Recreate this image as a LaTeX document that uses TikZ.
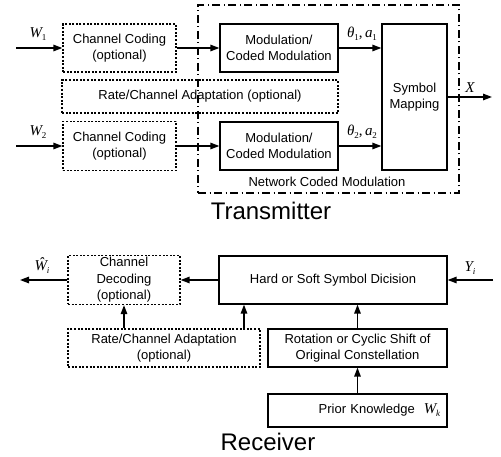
\documentclass[tikz,border=0pt]{standalone}
\usepackage{fontspec}
\setmainfont{Liberation Sans}
\newfontfamily\tnr{Liberation Serif}
\usetikzlibrary{arrows.meta}
\newcommand\mvar[2]{{\tnr\fontsize{15}{15}\selectfont\itshape #1\kern-0.3pt\raisebox{-3pt}{\fontsize{9}{9}\selectfont #2}}}
\newcommand\upsub[1]{\upshape #1}
\begin{document}
\begin{tikzpicture}[x=1pt,y=-1pt,
  base/.style={font=\fontsize{13}{16.5}\selectfont, align=center, inner sep=0pt},
  solidbox/.style={base, draw, line width=1.3pt},
  dotbox/.style={base, draw, line width=1.3pt, dash pattern=on 2pt off 1.6pt},
  dashdot/.style={draw, line width=1.2pt, dash pattern=on 8pt off 3.5pt on 1pt off 3.5pt},
  conn/.style={line width=1.4pt, -{Triangle[length=9pt,width=6.5pt]}},
  heading/.style={font=\fontsize{24}{24}\selectfont, inner sep=0pt},
  lab/.style={inner sep=0pt},
  small/.style={font=\fontsize{13}{14}\selectfont, inner sep=0pt}]
\path[use as bounding box] (0,0) rectangle (501,457);

% ---------------- Transmitter ----------------
\node[dashdot, minimum width=261pt, minimum height=188pt] (ncm) at (328.5,99) {};
\node[dotbox, minimum width=113pt, minimum height=48pt] (cc1) at (119.5,48) {Channel Coding\\(optional)};
\node[solidbox, minimum width=118pt, minimum height=48pt] (mod1) at (279,48) {Modulation/\\Coded Modulation};
\node[dotbox, minimum width=276pt, minimum height=33pt] (rca1) at (200,96.5) {Rate/Channel Adaptation (optional)};
\node[dotbox, minimum width=113pt, minimum height=49pt] (cc2) at (119.5,146) {Channel Coding\\(optional)};
\node[solidbox, minimum width=118pt, minimum height=48pt] (mod2) at (279,146) {Modulation/\\Coded Modulation};
\node[solidbox, minimum width=65pt, minimum height=146pt] (sm) at (414.5,97) {Symbol\\Mapping};
\node[small] (ncmlab) at (327,182) {Network Coded Modulation};
\node[heading] (tx) at (271,211) {Transmitter};

\coordinate (w1in) at (16,48);
\coordinate (w2in) at (16,146);
\coordinate (xout) at (492,97);
\draw[conn] (w1in) -- (cc1.west);
\draw[conn] (w2in) -- (cc2.west);
\draw[conn] (cc1.east) -- (mod1.west);
\draw[conn] (cc2.east) -- (mod2.west);
\draw[conn] (mod1.east) -- (mod1.east -| sm.west);
\draw[conn] (mod2.east) -- (mod2.east -| sm.west);
\draw[conn] (sm.east) -- (xout);

\node[lab] (lw1) at (38,34) {\mvar{W}{\upsub{1}}};
\node[lab] (lw2) at (38,132) {\mvar{W}{\upsub{2}}};
\node[lab] (lt1) at (362,34) {\mvar{θ}{\upsub{1}}{\tnr\fontsize{15}{15}\selectfont,\,}\mvar{a}{\upsub{1}}};
\node[lab] (lt2) at (362,132) {\mvar{θ}{\upsub{2}}{\tnr\fontsize{15}{15}\selectfont,\,}\mvar{a}{\upsub{2}}};
\node[lab] (lx) at (470,88) {{\tnr\fontsize{15}{15}\selectfont\itshape X}};

% ---------------- Receiver ----------------
\node[dotbox, minimum width=112pt, minimum height=49pt] (cd) at (124,280) {Channel\\Decoding\\(optional)};
\node[solidbox, minimum width=228pt, minimum height=48pt] (hs) at (333,280) {Hard or Soft Symbol Dicision};
\node[dotbox, minimum width=192pt, minimum height=38pt] (rca2) at (164,348) {Rate/Channel Adaptation\\(optional)};
\node[solidbox, minimum width=179pt, minimum height=38pt] (rot) at (357.5,348) {Rotation or Cyclic Shift of\\Original Constellation};
\node[solidbox, minimum width=179pt, minimum height=33pt, text width=165pt, align=right] (pk) at (357.5,410.5) {Prior Knowledge\hspace{9pt}\mvar{W}{k}};
\node[heading] (rx) at (268,442) {Receiver};

\coordinate (yin) at (493,280);
\coordinate (wout) at (20,280);
\coordinate (rhx) at (244,0);
\draw[conn] (yin) -- (hs.east);
\draw[conn] (hs.west) -- (cd.east);
\draw[conn] (cd.west) -- (wout);
\draw[conn] (rca2.north -| cd.south) -- (cd.south);
\draw[conn] (rca2.north -| rhx) -- (hs.south -| rhx);
\draw[conn] (rot.north) -- (rot.north |- hs.south);
\draw[conn] (pk.north) -- (rot.south);

\node[lab] (lwh) at (42,266) {\mvar{Ŵ}{i}};
\node[lab] (ly) at (470,268) {\mvar{Y}{i}};
\end{tikzpicture}
\end{document}
